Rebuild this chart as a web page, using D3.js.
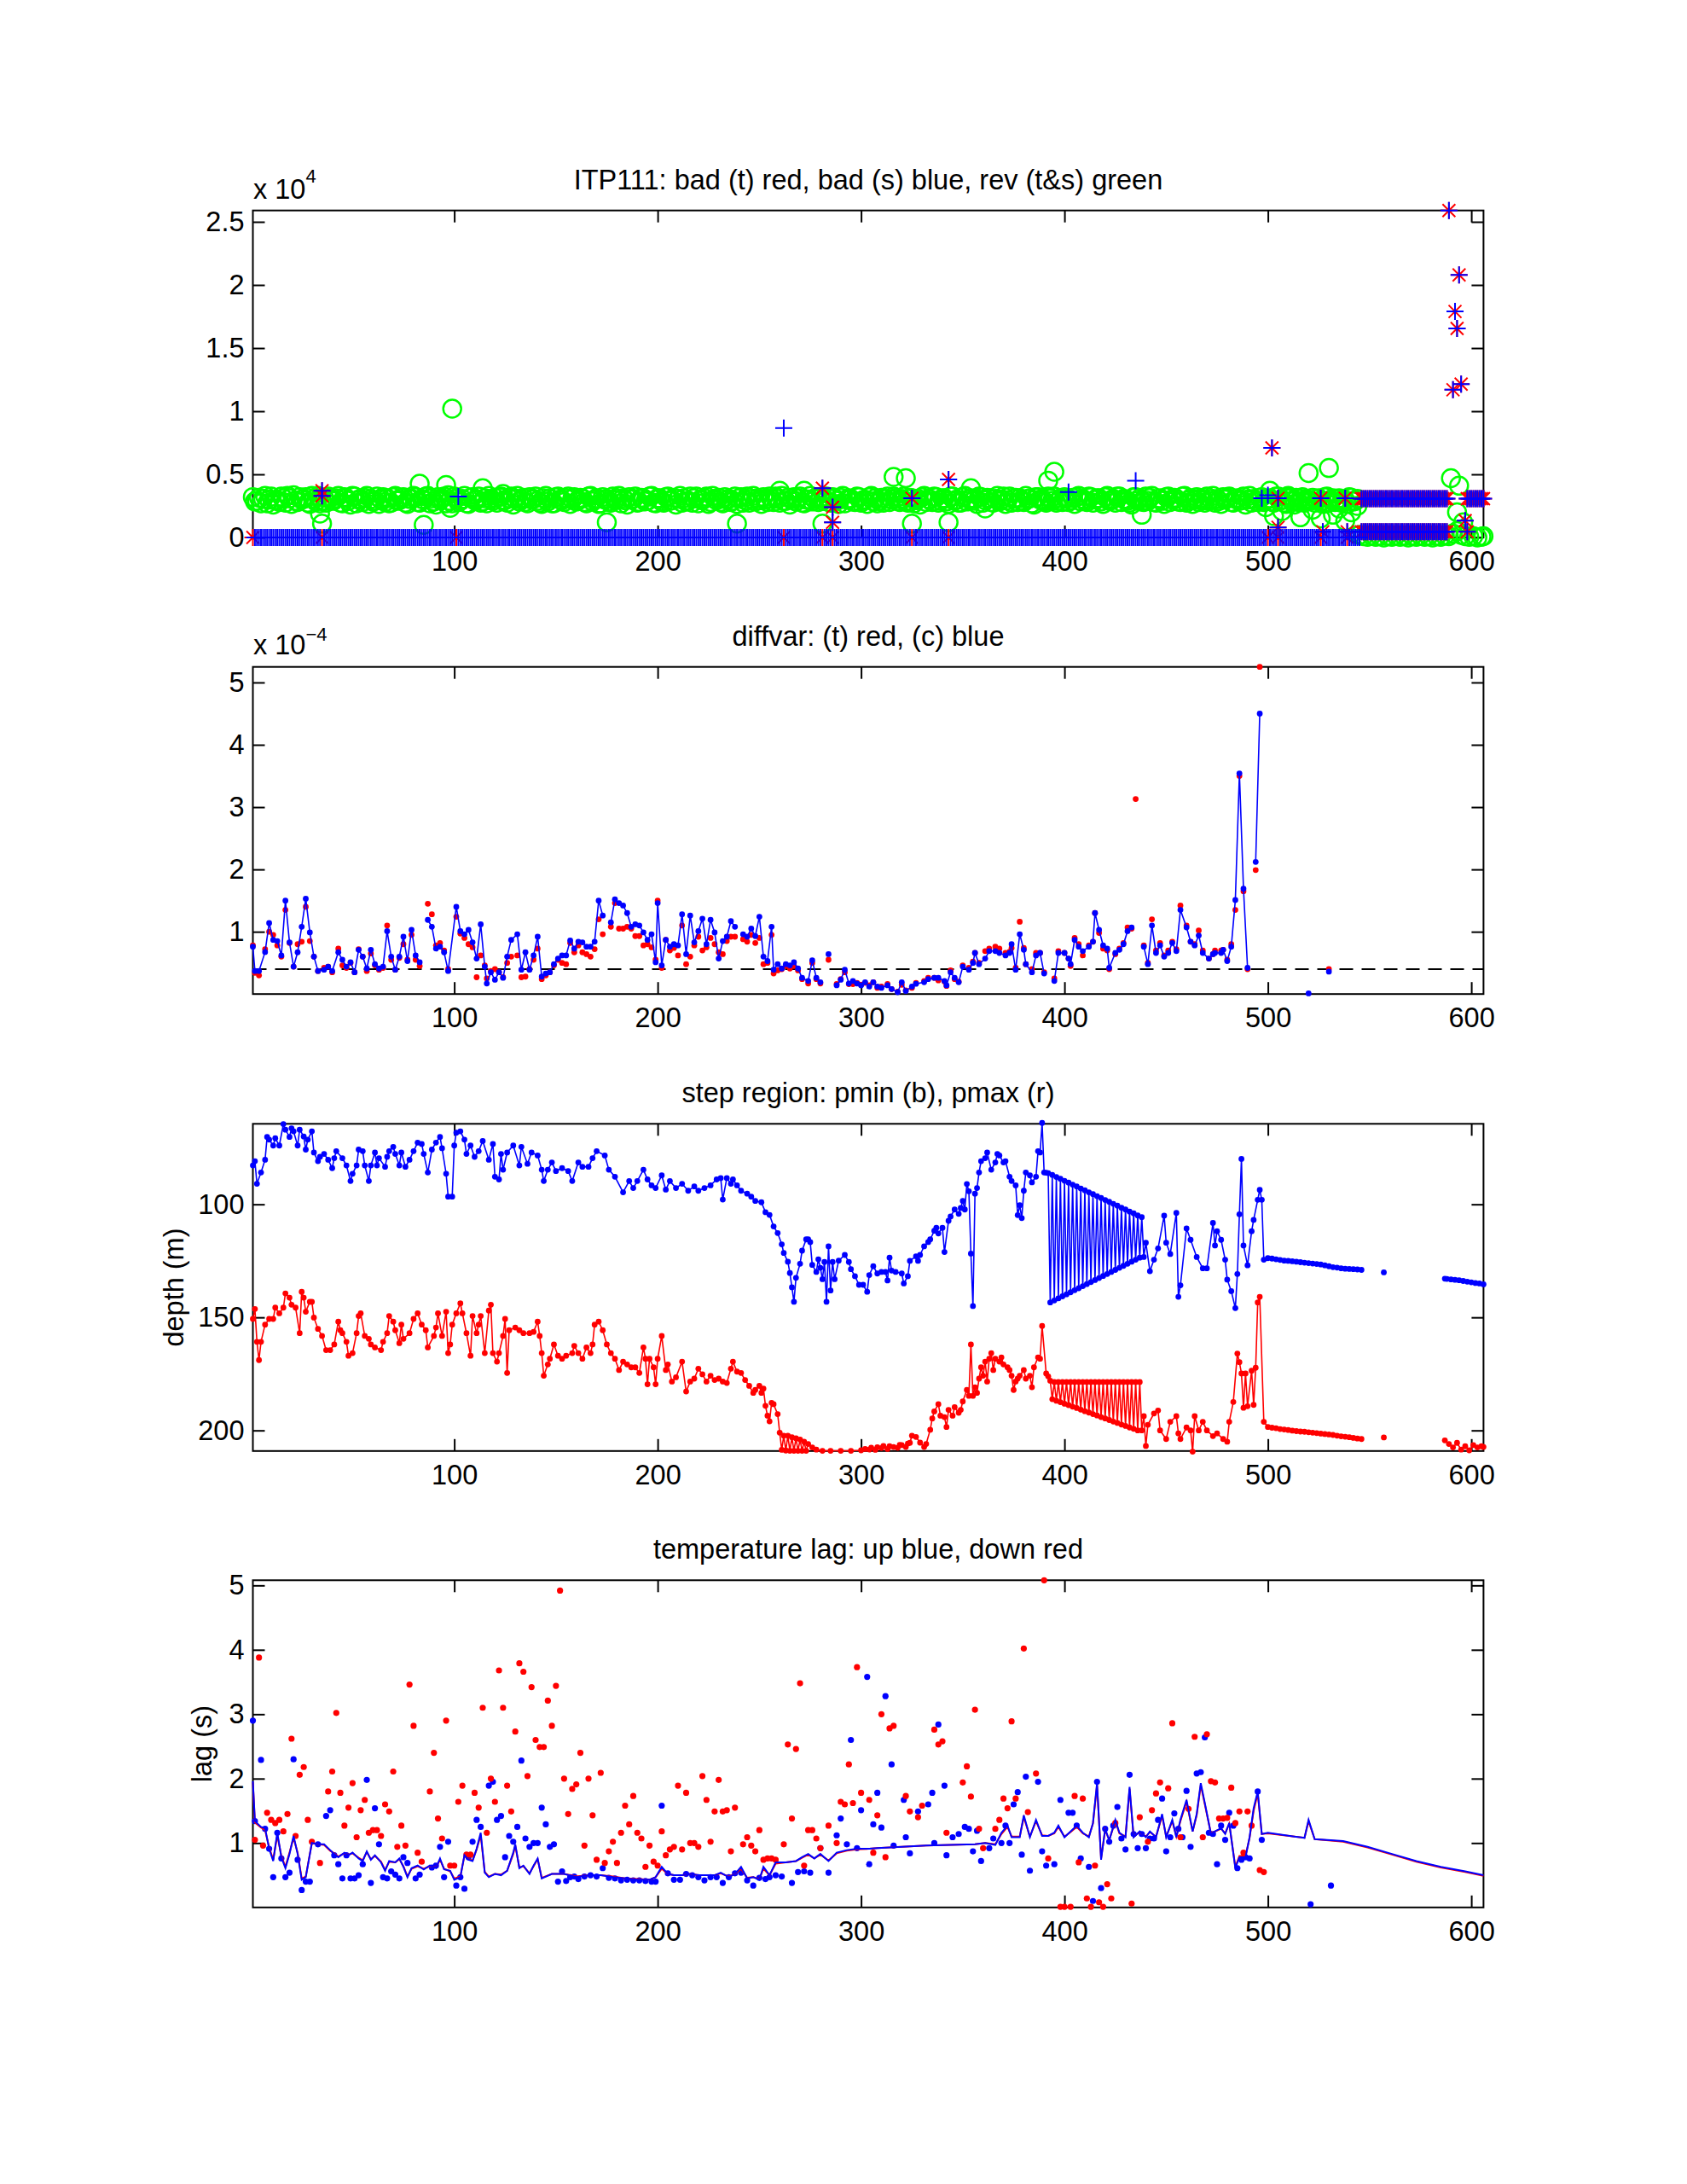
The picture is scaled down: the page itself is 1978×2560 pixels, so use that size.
<!DOCTYPE html>
<html><head><meta charset="utf-8">
<script src="https://cdn.jsdelivr.net/npm/d3@7"></script>
<style>body{margin:0;background:#fff}</style>
</head><body>
<script>
// ================= DATA =================
const xTicks = [100, 200, 300, 400, 500, 600];
const titles = [
  "ITP111: bad (t) red, bad (s) blue, rev (t&s) green",
  "diffvar: (t) red, (c) blue",
  "step region: pmin (b), pmax (r)",
  "temperature lag: up blue, down red"
];

// ---- panel 1 (counts) ----
// green circles: main band, read at odd profiles 1,3,...,543
const revBandOddV = [
3200,2900,2700,3300,3000,2600,2950,3250,2750,3100,3350,2800,3000,3200,2650,3050,3300,2900,2750,3150,
2950,3300,2700,3100,2600,3250,3000,2800,3300,3050,2900,2650,3200,3100,2750,3300,2950,3200,2650,3050,
3200,2750,3000,3300,3100,2600,2950,3250,3350,2700,3100,2900,3300,2650,3200,3000,2750,3100,3300,2900,
2750,3250,2950,3100,2600,3300,3000,2800,3200,3050,2900,2650,3300,3100,2700,3250,2950,3100,2650,3200,
2950,3100,2700,3300,3000,2650,3200,3050,2750,2950,3300,3100,2600,3000,3250,2800,3100,2900,3300,2700,
3100,2750,3250,2950,2600,3300,3100,2900,2750,3250,3000,3100,2650,3300,2950,2800,3200,3050,2900,2650,
3200,2950,2750,3300,3100,2650,3000,3250,2800,3050,3300,2900,2600,3200,3100,2750,3000,3300,3050,2800,
2900,3250,2750,3100,2650,3300,3000,3050,2800,3200,2950,2650,3300,3100,2900,2750,3250,3000,3100,2800,
3250,2750,3100,2950,2600,3300,3050,2800,3200,2900,3100,2650,3250,3000,2750,3300,3050,2900,2650,3200,
2950,3100,2750,3300,3000,2650,3250,3050,2800,2900,3300,3100,2600,3200,2950,2750,3100,3250,2900,2800,
3100,2950,2650,3300,3050,2800,3200,3000,3100,2650,3300,2950,2750,3250,3050,2900,2600,3200,3100,2800,
2900,3300,2750,3100,2650,3250,3000,3050,2800,3300,2950,2650,3200,3100,2750,2900,3300,3050,2650,3000,
3250,2750,3100,2950,2600,3300,3050,2800,3200,2950,3100,2750,3250,3000,2650,3100,2950,2800,3200,3050,
2900,2750,3100,2650,3250,2950,2800,3100,3000,2650,3150,2900
];
// green circles: main band, read at even profiles 2,4,...,544
const revBandEvenV = [
2850,3150,3050,2700,3250,2950,2800,3100,3300,2650,2900,3200,3050,2750,3300,2850,2700,3150,3250,2900,
3100,2750,3200,2900,3300,2700,3050,3150,2650,2850,3250,3000,2800,2700,3200,2900,3150,2750,3050,3300,
2800,3050,3250,2700,2850,3200,3100,2700,2900,3250,2800,3050,2700,3150,2950,3250,2850,2700,3050,3150,
3200,2900,2750,3250,3050,2850,3150,2700,3000,3250,2750,3100,2850,2700,3200,3000,2800,3250,3050,2850,
3150,2800,3250,2850,3100,2700,3000,2850,3250,3100,2700,2950,3200,3050,2750,3150,2850,3250,2750,3100,
2850,3200,2900,3150,3050,2750,2850,3250,3100,2700,2950,3250,2800,3050,3150,2700,3000,2800,3250,3100,
2750,3250,3050,2850,2950,3200,2800,3050,3250,2750,2900,3150,3050,2850,3250,2700,3000,2850,3200,3100,
3050,2800,3200,2900,3150,2700,3100,2850,3250,2750,3000,3200,2850,2700,3150,3050,2800,3250,2900,3050,
2850,3150,2700,3050,3200,2800,3000,3250,2750,3100,2850,3250,2900,2750,3200,2850,3100,3050,3250,2750,
3150,2800,3050,2850,3250,2950,2750,3150,3100,2800,3050,2700,3200,3000,2850,3250,2900,2750,3100,3200,
2800,3150,3200,2850,2900,3250,2750,3100,2850,3200,2900,3050,3250,2800,3000,2750,3200,2900,2850,3250,
3150,2800,3050,2900,3200,2800,3150,2850,3250,2750,3100,3000,2800,2950,3250,3050,2750,2900,3200,3150,
2800,3050,2900,3250,3000,2750,2900,3150,2800,3050,2850,3250,2900,2750,3200,2850,3150,3050,2750,2950,
3150,3050,2850,3200,2800,3100,3000,2750,2950,3200,2850,3050
];
// green circles: outliers [profile, value]
const revOutliers = [
[34,1900],[35,1100],[83,4250],[85,1000],[96,4150],[99,10200],[98,2350],[114,3900],[124,3450],
[175,1200],[239,1100],[260,3700],[272,3700],[281,1100],[316,4800],[322,4700],[325,1100],[343,1200],
[354,3900],[361,2300],[392,4500],[395,5200],[438,1800],[501,3700],[520,5100],[530,5500],
[499,2400],[503,1700],[507,2100],[510,3300],[513,2600],[516,1600],[518,2900],[522,2200],[526,1500],
[529,2700],[532,1800],[535,2300],[538,1300],[541,2000],[544,2500],[590,4700],[594,4100],[593,2000],[596,1200]
];
// green circles near zero after profile 545
const revLow = [
[545,200],[547,100],[549,50],[551,150],[553,50],[555,100],[557,0],[559,100],[561,50],[563,150],
[565,50],[567,100],[569,0],[571,100],[573,50],[575,150],[577,50],[579,100],[581,0],[583,100],
[585,50],[587,150],[589,100],[591,300],[593,500],[595,200],[597,100],[599,50],[601,100],[603,0],[605,50],[606,100]
];
// blue '+' at zero: profile ranges
const badSZeroRanges = [[2,34],[36,100],[102,261],[263,280],[282,285],[287,324],[326,342],[344,499],[501,504],[506,525],[527,538],[540,545]];
// red '*' at zero
const badTZeroP = [1,35,101,262,281,286,325,343,500,505,526,539];
// profiles flagged bad in both t and s [profile, value]
const badBoth = [
[35,3700],[35,3300],[281,3900],[286,2400],[286,1200],[325,3100],[343,4600],[502,7100],[505,3100],[505,800],
[526,3100],[527,450],[538,3100],[539,450],[589,25900],[594,20800],[592,17900],[593,16550],[591,11700],[595,12150],[597,1330],[598,450]
];
// bad in s only
const badSOnly = [[102,3250],[262,8660],[402,3600],[435,4500],[500,3350],[497,3100]];
// rows of bad t & s after profile 545 [start, end, value]
const badRows = [[546,588,3070],[598,606,3070],[546,588,450]];

// ---- panel 2 (diffvar, units of 1e-4) ----
const dashLevel = 0.4;
const diffC = [
[1,0.76],[2,0.37],[4,0.37],[7,0.675],[9,1.14],[11,0.87],[13,0.85],[15,0.62],[17,1.50],[19,0.83],[21,0.44],[23,0.67],[25,1.08],[27,1.53],[29,0.99],[31,0.60],[33,0.37],[36,0.39],[38,0.44],[40,0.37],[43,0.67],[45,0.55],[47,0.44],[49,0.51],[51,0.35],[53,0.71],[55,0.60],[57,0.41],[59,0.71],[61,0.48],[63,0.41],[65,0.44],[67,1.01],[69,0.60],[71,0.39],[73,0.60],[75,0.92],[77,0.53],[79,1.03],[81,0.62],[83,0.51],null,
[87,1.19],[89,1.08],[91,0.73],[93,0.76],[95,0.67],[97,0.37],[101,1.40],[103,1.01],[105,0.96],[107,1.03],[109,0.83],[111,0.57],[113,1.12],[115,0.44],[116,0.17],[118,0.35],[120,0.23],[122,0.35],[124,0.26],[126,0.60],[128,0.87],[131,0.96],[133,0.39],[135,0.67],[137,0.39],[139,0.62],[141,0.92],[143,0.28],[145,0.33],[147,0.35],[149,0.48],[151,0.57],[153,0.62],[155,0.62],[157,0.86],[159,0.73],[161,0.84],[163,0.83],[165,0.76],[167,0.76],[169,0.84],[171,1.50],[173,1.26],null,
[177,1.15],[179,1.52],[181,1.46],[183,1.42],[185,1.30],[187,1.08],[189,1.12],[191,1.10],[193,0.99],[195,0.87],[197,0.96],[199,0.51],[200,1.46],[202,0.46],[204,0.87],[206,0.76],[208,0.80],[210,0.78],[212,1.28],[214,0.64],[216,1.26],[218,0.83],[220,1.01],[222,1.21],[224,0.80],[226,1.19],[228,0.99],[230,0.57],[232,0.85],[234,0.92],[236,1.17],[238,1.08],null,
[242,0.96],[244,0.92],[246,1.05],[248,0.93],[250,1.24],[252,0.60],[254,0.53],[256,1.08],[257,0.39],[259,0.48],[261,0.41],[263,0.48],[265,0.46],[267,0.51],[269,0.41],[271,0.26],[274,0.21],[276,0.54],[278,0.26],[280,0.19],null,
[284,0.64],null,
[288,0.14],[290,0.23],[292,0.39],[294,0.17],[296,0.21],[298,0.17],[300,0.14],[302,0.19],[304,0.12],[306,0.19],[308,0.12],[310,0.10],[313,0.14],[315,0.08],[318,0.03],[320,0.19],[322,0.05],[325,0.12],[327,0.165],[331,0.19],[333,0.24],[336,0.26],[338,0.26],[341,0.21],[342,0.14],[344,0.35],[346,0.26],[348,0.19],[350,0.44],[353,0.39],[355,0.50],[356,0.66],[358,0.48],[361,0.57],[363,0.69],[366,0.69],[368,0.66],[371,0.62],[373,0.66],[374,0.80],[376,0.39],[378,0.96],[380,0.71],[381,0.48],[384,0.35],[386,0.62],[388,0.66],[390,0.33],null,
[395,0.21],[397,0.66],[400,0.66],[402,0.57],[403,0.48],[405,0.87],[407,0.76],[409,0.69],[412,0.76],[414,0.84],[415,1.30],[417,1.03],[419,0.78],[421,0.73],[422,0.42],[425,0.66],[427,0.71],[429,0.80],[431,1.01],[433,1.07],null,
[439,0.76],[441,0.48],[443,1.10],[445,0.66],[447,0.78],[449,0.60],[451,0.66],[453,0.82],[455,0.69],[457,1.35],[460,1.07],[462,0.84],[464,0.78],[466,0.94],[468,0.66],[471,0.57],[473,0.64],[474,0.66],[477,0.66],[478,0.71],[480,0.53],[482,0.76],[484,1.51],[486,3.54],[488,1.69],[490,0.42],null,
[494,2.12],[496,4.50],null,
[520,0.01],null,[530,0.36]
];
const diffT = [
[1,0.78],[2,0.34],[4,0.30],[7,0.72],[9,1.0],[11,0.95],[13,0.78],[15,0.60],[17,1.35],[19,0.82],[21,0.44],[23,0.80],[25,0.84],[27,1.40],[29,0.85],[31,0.60],[33,0.37],[36,0.42],[38,0.44],[40,0.35],[43,0.73],[45,0.46],[47,0.42],[49,0.50],[51,0.35],[53,0.72],[55,0.60],[57,0.37],[59,0.65],[61,0.46],[63,0.39],[65,0.42],[67,1.10],[69,0.55],[71,0.39],[73,0.58],[75,0.80],[77,0.55],[79,0.95],[81,0.55],[83,0.45],[87,1.45],[89,1.28],[91,0.78],[93,0.82],[95,0.70],[97,0.40],[101,1.24],[103,0.97],[105,0.90],[107,0.80],[109,0.75],[111,0.27],[113,0.62],[115,0.46],[116,0.25],[118,0.37],[120,0.40],[122,0.35],[124,0.27],[126,0.50],[128,0.60],[131,0.62],[133,0.27],[135,0.28],[137,0.40],[139,0.55],[141,0.73],[143,0.24],[145,0.30],[147,0.35],[149,0.46],[151,0.55],[153,0.50],[155,0.48],[157,0.82],[159,0.67],[161,0.78],[163,0.67],[165,0.64],[167,0.60],[169,0.72],[171,1.20],[173,0.96],[177,1.08],[179,1.46],[181,1.05],[183,1.05],[185,1.08],[187,1.05],[189,0.93],[191,0.93],[193,0.78],[195,0.80],[197,0.75],[199,0.55],[200,1.50],[202,0.42],[204,0.87],[206,0.70],[208,0.74],[210,0.62],[212,1.10],[214,0.48],[216,0.60],[218,0.78],[220,0.92],[222,0.70],[224,0.75],[226,0.90],[228,0.80],[230,0.67],[232,0.64],[234,0.85],[236,0.92],[238,0.92],[242,0.88],[244,0.84],[246,0.95],[248,0.82],[250,0.90],[252,0.48],[254,0.50],[256,0.95],[257,0.33],[259,0.38],[261,0.40],[263,0.45],[265,0.41],[267,0.45],[269,0.38],[271,0.24],[274,0.17],[276,0.50],[278,0.24],[280,0.17],[284,0.55],[288,0.16],[290,0.24],[292,0.35],[294,0.16],[296,0.16],[298,0.18],[300,0.15],[302,0.18],[304,0.14],
[306,0.19],[308,0.10],[310,0.12],[313,0.16],[315,0.08],[318,0.04],[320,0.15],[322,0.06],[325,0.10],[327,0.18],[331,0.21],[333,0.26],[336,0.26],[338,0.22],[341,0.20],[342,0.13],[344,0.38],[346,0.24],[348,0.20],[350,0.46],[353,0.42],[355,0.52],[356,0.66],[358,0.50],[361,0.69],[363,0.73],[366,0.76],[368,0.73],[371,0.66],[373,0.68],[374,0.74],[376,0.42],[378,1.16],[380,0.74],[381,0.48],[384,0.40],[386,0.66],[388,0.66],[390,0.35],[395,0.25],[397,0.69],[400,0.66],[402,0.57],[403,0.45],[405,0.90],[407,0.80],[409,0.62],[412,0.78],[414,0.84],[415,1.30],[417,0.98],[419,0.73],[421,0.70],[422,0.40],[425,0.64],[427,0.73],[429,0.82],[431,1.07],[433,1.05],[435,3.13],[439,0.78],[441,0.50],[443,1.20],[445,0.70],[447,0.82],[449,0.62],[451,0.70],[453,0.84],[455,0.72],[457,1.42],[460,1.10],[462,0.84],[464,0.80],[466,1.02],[468,0.70],[471,0.57],[473,0.64],[474,0.70],[477,0.70],[478,0.71],[480,0.55],[482,0.80],[484,1.35],[486,3.50],[488,1.65],[490,0.40],[494,1.99],[496,5.25],[530,0.40]
];

// ---- panel 3 (step region depth, m) ----
const pmin = [
[1,82.8],[2,80.9],[3,90.9],[5,85.9],[7,80.3],[8,70.2],[9,71.4],[11,74],[12,70.8],[14,74],[16,64.5],[17,67],[19,70.2],[20,66.4],[21,67.7],[23,74],[24,67],[26,70],[27,75.8],[28,71.4],[30,67.7],[31,77.1],[33,80.9],[34,79],[36,77.7],[38,80.3],[40,84],[41,79.6],[42,76.5],[45,79.6],[47,82.8],[49,89.7],[50,86.5],[52,82.8],[53,75.8],[55,76.5],[56,82.8],[58,89.7],[59,82.8],[61,77.1],[62,82.8],[63,79.6],[66,83.4],[67,79],[68,76.5],[70,74.6],[71,77.7],[73,82.8],[74,77.1],[76,83.4],[78,80.3],[80,76.5],[82,72.7],[84,73.3],[85,77.7],[87,85.9],[89,75.8],[91,72.7],[93,70.2],[94,75.2],[96,86.5],[97,96.6],[99,96.6],[100,74],
[101,68.3],[103,67.7],[105,71.4],[106,77.7],[108,74],[110,79],[112,76.5],[114,72],[117,80.3],[119,73.3],[120,87.8],[122,89],[123,77.7],[124,84.7],[126,77.1],[129,74],[132,82.8],[133,74.6],[136,82.1],[138,77.1],[141,78.4],[143,84.7],[144,89.7],[146,84.7],[148,81.5],[150,85.3],[153,84],[156,85.3],[158,89.7],[161,81.5],[163,83.4],[166,83.4],[168,79.6],[170,76.5],[174,78.4],[176,84.7],[179,87.8],[183,94.7],[186,89.7],[188,92.8],[190,89.7],[193,84.7],[195,89],[197,91.6],[199,92.8],[202,87.2],[204,93.5],[206,89.7],
[209,92.8],[212,90.9],[215,94],[218,92.1],[220,94],[223,92.8],[226,91.6],[229,89],[231,88.4],[232,97.9],[234,88.4],[236,90.9],[237,89],[239,91.6],[241,94],[244,95.3],[246,96.6],[248,98.5],[251,99.1],[253,103.5],[255,104.7],[257,109.8],[259,112.7],[261,117.7],[262,121.5],[264,125.4],[265,130.4],[266,136.7],[267,143.1],[268,132.5],[270,126.3],[271,120.5],[273,115.5],[274,115.5],[275,116.7],[276,126.8],[278,129.9],[279,124.3],[280,128.1],[281,133.1],[282,125.5],[283,143.1],[284,118.6],[285,138.1],[286,125.5],[287,133.1],[289,124.9],[292,122.4],[294,125.5],[295,128.7],[297,131.8],[299,135.6],
[301,135.6],[303,138.7],[304,131.3],[306,127.4],[308,130.6],[310,129.9],[312,129.9],[313,133.7],[314,123.6],[315,129.3],[317,129.9],[320,130.6],[321,135],[323,131.8],[324,125],[327,123],[328,125],[329,122.4],[331,118.6],[333,116.7],[334,115.5],[336,111.7],[337,110.4],[338,112.9],[340,110.4],[341,121.1],[343,107.3],[344,105.4],[346,102.3],[348,104.2],[349,101.6],[350,98.5],[351,102.3],[352,91],[353,94.2],[354,121.8],[355,145],[356,95.3],[357,92.8],[358,85.9],[359,80.9],[361,79.6],[362,77.1],[364,84.7],[366,81.5],[367,77.7],[368,78.4],[370,81.5],[371,80.9],[373,87.8],[374,89.7],[376,91.6],[377,104.8],[378,100.4],[379,106.1],[380,94],[381,85.9],[383,87.2],[384,90.3],[386,87.8],[387,76.5],[388,77.1],[389,64],[390,85.9],[391,86],
[392,86.2],[393,143.4],[394,87.0],[395,142.5],[396,87.9],[397,141.6],[398,88.7],[399,140.7],[400,89.6],[401,139.8],[402,90.4],[403,138.9],[404,91.3],[405,138.0],[406,92.1],[407,137.1],[408,93.0],[409,136.2],[410,93.8],[411,135.3],[412,94.7],[413,134.4],[414,95.5],[415,133.5],[416,96.4],[417,132.6],[418,97.2],[419,131.7],[420,98.1],[421,130.8],[422,98.9],[423,129.9],[424,99.8],[425,129.0],[426,100.6],[427,128.1],[428,101.5],[429,127.2],[430,102.3],[431,126.3],[432,103.2],[433,125.4],[434,104.0],[435,124.5],[436,104.9],[437,123.6],[438,105.7],
[439,123.3],[440,117],[442,129.6],[444,124.5],[446,119.5],[449,105],[450,117],[452,122],[455,103.8],[456,140.9],[457,135.8],[460,110.7],[462,115.7],[465,123.3],[468,128.3],[470,128.3],[473,108.2],[474,118.2],[475,111.9],[477,115.7],[479,124.5],[480,133.3],[482,138.4],[484,145.9],[485,130.8],[486,104.4],[487,79.9],[488,118.2],[490,127],[492,111.9],[493,106.9],[495,98],[496,93.6],[497,98],
[498,124.5],[500,123.8],[502,124],[504,124.3],[506,124.6],[508,124.9],[510,125],[512,125.2],[514,125.4],[516,125.6],[518,125.8],[520,126],[522,126.2],[524,126.4],[526,126.6],[528,127],[530,127.4],[532,127.8],[534,128],[536,128.3],[538,128.5],[540,128.6],[542,128.7],[544,128.8],[546,129],null,
[557,130.1],null,
[587,132.9],[588,133],[590,133.2],[592,133.4],[594,133.6],[596,133.9],[598,134.2],[600,134.5],[602,134.8],[604,135],[606,135.4]
];
const pmax = [
[1,150.7],[2,146.3],[3,160.8],[4,168.9],[5,160.8],[7,153.2],[9,150.7],[11,150.7],[12,145.7],[14,148.2],[16,145.7],[17,139.4],[19,141.3],[20,144.4],[22,145.7],[24,157],[25,138.7],[26,141.3],[27,147.5],[29,143.1],[30,143.1],[31,150.1],[33,155.1],[35,158.2],[37,164.5],[39,164.5],[41,162],[43,151.9],[44,155.7],[45,157],[47,160.8],[48,167],[50,165.8],[52,157],[53,149.4],[54,148.2],[56,158.2],[58,159.5],[59,162],[61,163.3],[64,164.5],[65,160.8],[67,157],[68,149.4],[70,151.9],[71,155.7],[73,161.4],[74,153.2],[75,159.5],[78,157],[80,150.7],[82,148.2],[84,153.2],[86,155.7],[87,163.3],[90,158.2],[91,154.5],[92,148.2],[94,158.2],[96,147.5],[97,165.8],[98,162],[99,153.2],
[101,148.2],[103,143.8],[104,148.2],[106,157],[108,167],[109,149.4],[111,157],[112,153.2],[113,149.4],[115,165.8],[117,147],[118,144.4],[119,165.8],[121,169.6],[122,165.8],[124,158.2],[125,150.7],[126,174.6],[127,155.7],[130,154.5],[132,155.7],[134,157],[137,157],[139,156.4],[141,151.9],[142,158.2],[143,165.8],[144,175.8],[146,170.8],[147,168.3],[149,162],[151,167],[153,168.3],[155,167],[158,165.8],[159,162.6],[161,165.8],[163,168.3],[165,163.3],[167,165.8],[168,162],[169,153.2],[171,151.9],[173,155.7],[175,162],[177,165.8],[179,168.3],[181,173.3],[183,169.6],[185,170.8],[187,172.1],[189,172.1],[191,174.6],[193,163.3],[194,168.3],[195,179.6],[196,168.3],[198,172.1],[199,179.6],[200,168.3],[202,158.2],[204,173.3],[205,170.8],[207,178.4],
[209,176.5],[212,169.6],[214,182.8],[216,178.4],[218,177.1],[220,172.7],[222,175.2],[224,178.4],[226,175.8],[228,177.7],[230,177.1],[232,178.4],[234,179],[236,172.7],[237,169.6],[239,174],[241,174.6],[243,177.7],[245,180.3],[247,183.4],[248,182.1],[250,180.3],[251,183.4],[252,181.5],[253,189.1],[254,193.5],[255,196],[256,187.8],[257,188.4],[259,192.8],[260,201],[261,208.6],[262,202.3],[263,208.9],[264,202.3],[265,209],[266,203],[267,209],[268,203.5],[269,209],[270,204],[271,209],[272,205],[273,209],[274,206],[276,207.5],[278,208.5],[281,209],[285,209],[290,209],[295,209],[300,208.8],[302,208.2],[304,208.5],[305,207.6],[307,208.6],[308,207.4],[310,207.8],[311,206.9],[313,208.2],[314,207],[316,207.3],[318,207.7],[319,206.4],[320,206.5],[322,207.3],[323,205.8],[324,205.5],[325,202.3],[327,202.9],[329,205.4],[331,207.3],[332,206],[334,199.7],[335,194.7],[336,191.6],[338,188.4],[339,193.5],[341,194.1],[342,198.5],[343,190.9],[345,193.5],[346,189.7],[348,192.2],[349,190.9],[350,187.2],[352,182.1],[353,184.7],[354,162],[355,184.7],[356,180.9],[357,183.4],[358,177.1],[359,172.1],[360,175.8],[361,169.6],[362,178.4],[363,168.3],[364,165.8],[365,173.3],[366,168.3],[368,169.6],[369,167.7],[370,170.8],[372,172.1],[373,173.3],[374,175.8],[375,182.1],[376,178.4],[377,177.1],[378,175.8],[380,173.3],[381,177.1],[383,175.8],[384,180.9],[385,172.1],[387,167.7],[388,168.3],[389,153.8],[391,174.8],[392,176.1],[393,178],
[394,186.2],[395,178.6],[396,186.9],[397,178.6],[398,187.5],[399,178.6],[400,188.2],[401,178.6],[402,188.8],[403,178.6],[404,189.5],[405,178.6],[406,190.1],[407,178.6],[408,190.8],[409,178.6],[410,191.5],[411,178.6],[412,192.1],[413,178.6],[414,192.8],[415,178.6],[416,193.4],[417,178.6],[418,194.1],[419,178.6],[420,194.7],[421,178.6],[422,195.4],[423,178.6],[424,196.1],[425,178.6],[426,196.7],[427,178.6],[428,197.4],[429,178.6],[430,198],[431,178.6],[432,198.7],[433,178.6],[434,199.3],[435,178.6],[436,200],[437,178.6],
[438,200],[439,193.7],[440,206.9],[441,197.5],[444,192.5],[446,191.2],[447,200],[450,203.8],[452,196.2],[455,193.7],[456,201.3],[457,203.8],[460,198.7],[462,200],[463,209.4],[464,193.7],[466,200],[468,196.2],[470,200],[473,202.5],[475,201.3],[478,203.8],[480,205],[481,196.2],[483,187.4],[485,166],[486,169.8],[487,174.8],[488,190],[489,174.8],[490,189.3],[492,173.6],[493,188.7],[494,172.3],[495,143.4],[496,140.9],
[498,196.2],[500,198.5],[502,198.8],[504,199],[506,199.4],[508,199.6],[510,199.8],[512,200.1],[514,200.3],[516,200.5],[518,200.6],[520,200.8],[522,201],[524,201.2],[526,201.4],[528,201.6],[530,201.8],[532,202],[534,202.3],[536,202.6],[538,202.8],[540,203],[542,203.3],[544,203.6],[546,203.8],null,
[557,203.1],null,
[587,204.4],[589,206],[591,207.5],[593,205.5],[595,208.5],[597,207],[599,208.8],[601,206.5],[603,207.5],[605,207],[606,207.3]
];

// ---- panel 4 (temperature lag, s) ----
const lagUpLine = [
[1,1.96],[2,1.34],[5,1.25],[7,1.23],[9,0.91],[11,0.72],[13,1.16],[15,0.78],[17,0.61],[19,0.83],[21,1.11],[23,0.83],[25,0.43],[27,0.47],[30,1.0],[33,0.98],[36,0.98],[39,0.89],[41,0.83],[43,0.78],[46,0.85],[48,0.81],[50,0.85],[53,0.76],[55,0.72],[57,0.87],[59,0.74],[61,0.81],[64,0.70],[66,0.57],[68,0.72],[71,0.70],[73,0.76],[75,0.63],[77,0.47],[79,0.61],[82,0.65],[85,0.59],[88,0.65],[91,0.61],[93,0.76],[95,0.59],[98,0.57],[100,0.43],[103,0.47],[105,0.81],[107,0.74],[109,0.72],[111,0.91],[113,1.16],[115,0.54],[117,0.47],[120,0.52],[123,0.50],[126,0.57],[129,0.85],[130,0.98],[132,0.61],[134,0.65],[137,0.52],[139,0.65],[141,0.76],[143,0.45],[148,0.52],[154,0.52],[160,0.47],[166,0.50],[172,0.50],[178,0.47],[184,0.45],[190,0.43],[196,0.43],[199,0.47],[202,0.63],[205,0.52],[208,0.50],[212,0.50],[216,0.52],[220,0.50],[224,0.50],[228,0.50],[231,0.54],[235,0.47],[238,0.52],[241,0.63],[244,0.45],[247,0.47],[250,0.43],[252,0.63],[255,0.50],[258,0.70],[263,0.70],[268,0.72],[271,0.78],[274,0.83],[277,0.76],[280,0.83],[284,0.72],[288,0.85],[293,0.89],[298,0.91],[304,0.91],[308,0.92],[320,0.94],[332,0.96],[344,0.97],[356,0.98],[361,1.0],[366,0.97],[369,1.16],[372,1.27],[374,1.09],[378,1.09],[380,1.43],[383,1.09],[386,1.36],[389,1.11],[392,1.11],[395,1.16],[397,1.27],[400,1.09],[403,1.18],[406,1.27],[409,1.16],[412,1.09],[414,1.31],[416,1.93],[418,0.74],[420,1.22],[422,1.04],[425,1.36],[427,1.16],[430,1.09],[432,1.87],[434,1.09],[437,1.18],[440,1.09],[442,1.18],[445,1.09],[448,1.45],[450,1.09],[453,1.36],[455,1.09],[457,1.36],[460,1.67],[463,1.18],[465,1.45],[467,1.93],[469,1.62],[472,1.14],[474,1.18],[477,1.23],[479,1.14],[481,1.31],[484,0.61],[486,0.78],[489,0.78],[491,1.09],[493,1.54],[495,1.80],[497,1.14],[500,1.16],[513,1.10],[518,1.08],[520,1.36],[523,1.06],[537,1.03],[549,0.94],[561,0.83],[573,0.72],[585,0.63],[597,0.56],[606,0.50]
];
const lagDownLine = [
[1,1.94],[2,1.32],[5,1.24],[7,1.2],[9,0.93],[11,0.74],[13,1.12],[15,0.8],[17,0.63],[19,0.85],[21,1.08],[23,0.85],[25,0.45],[27,0.48],[30,1.0],[33,0.98],[36,0.97],[39,0.88],[41,0.84],[43,0.79],[46,0.84],[48,0.82],[50,0.84],[53,0.77],[55,0.73],[57,0.86],[59,0.75],[61,0.8],[64,0.71],[66,0.58],[68,0.71],[71,0.7],[73,0.75],[75,0.64],[77,0.48],[79,0.6],[82,0.64],[85,0.6],[88,0.64],[91,0.62],[93,0.74],[95,0.6],[98,0.56],[100,0.45],[103,0.48],[105,0.8],[107,0.75],[109,0.73],[111,0.9],[113,1.12],[115,0.55],[117,0.48],[120,0.52],[123,0.51],[126,0.57],[129,0.83],[130,0.96],[132,0.62],[134,0.64],[137,0.53],[139,0.64],[141,0.75],[143,0.46],[148,0.52],[154,0.52],[160,0.48],[166,0.5],[172,0.5],[178,0.48],[184,0.45],[190,0.44],[196,0.43],[199,0.47],[202,0.6],[205,0.52],[208,0.5],[212,0.5],[216,0.52],[220,0.5],[224,0.5],[228,0.5],[231,0.53],[235,0.48],[238,0.52],[241,0.6],[244,0.46],[247,0.47],[250,0.44],[252,0.6],[255,0.5],[258,0.68],[263,0.7],[268,0.72],[271,0.77],[274,0.82],[277,0.76],[280,0.82],[284,0.73],[288,0.84],[293,0.88],[298,0.9],[304,0.91],[308,0.92],[320,0.94],[332,0.96],[344,0.97],[356,0.98],[361,1.0],[366,0.98],[369,1.14],[372,1.25],[374,1.1],[378,1.1],[380,1.4],[383,1.1],[386,1.34],[389,1.12],[392,1.11],[395,1.15],[397,1.25],[400,1.1],[403,1.17],[406,1.25],[409,1.15],[412,1.1],[414,1.3],[416,1.9],[418,0.76],[420,1.2],[422,1.05],[425,1.34],[427,1.15],[430,1.1],[432,1.84],[434,1.1],[437,1.17],[440,1.1],[442,1.17],[445,1.1],[448,1.42],[450,1.1],[453,1.34],[455,1.1],[457,1.34],[460,1.64],[463,1.18],[465,1.43],[467,1.9],[469,1.6],[472,1.15],[474,1.18],[477,1.22],[479,1.15],[481,1.3],[484,0.63],[486,0.8],[489,0.8],[491,1.08],[493,1.5],[495,1.77],[497,1.14],[500,1.15],[513,1.1],[518,1.08],[520,1.34],[523,1.06],[537,1.02],[549,0.93],[561,0.82],[573,0.71],[585,0.62],[597,0.55],[606,0.49]
];
const lagUp = [
[1,2.90],[2,1.34],[5,2.29],[7,1.22],[9,0.91],[11,0.47],[13,1.16],[15,0.76],[17,0.47],[19,0.54],[21,2.30],[23,0.74],[25,0.27],[27,0.40],[29,0.40],[33,0.98],[37,1.42],[39,1.51],[41,0.81],[43,0.67],[45,0.45],[47,0.81],[49,0.45],[51,0.45],[53,0.50],[55,0.67],[57,1.98],[59,0.38],[61,1.54],[63,0.98],[65,0.47],[67,0.45],[69,0.56],[71,0.51],[73,0.45],[75,0.78],[77,0.69],[81,0.45],[83,0.51],[89,0.62],[91,0.65],[93,0.94],[95,0.47],[97,1.02],[101,0.34],[103,0.47],[105,0.29],[107,0.78],[109,1.02],[111,1.36],[113,1.25],[117,1.89],[119,1.95],[121,1.36],[123,1.42],[125,0.78],[127,1.11],[129,1.02],[131,1.25],[133,2.28],[135,1.07],[137,0.94],[139,1.00],[141,1.00],[143,1.55],[145,1.29],[147,0.94],[149,0.98],[151,0.40],[153,0.56],[155,0.41],[157,0.47],[159,0.48],[161,0.44],[164,0.48],[167,0.50],[170,0.48],[173,0.61],[176,0.46],[179,0.45],[182,0.42],[185,0.43],[188,0.42],[191,0.42],[194,0.41],[197,0.40],[199,0.40],[202,1.58],[205,0.53],[208,0.43],[211,0.43],[214,0.52],[217,0.50],[220,0.47],[223,0.42],[226,0.47],[229,0.47],[232,0.38],[235,0.47],[238,0.53],[241,0.54],[244,0.42],[247,0.34],[250,0.46],[253,0.44],[255,0.47],[258,0.50],[261,0.48],[266,0.38],[269,0.55],[272,0.56],[275,0.54],[280,0.92],[284,0.54],[288,1.12],[290,1.38],[293,0.98],[295,2.60],[298,0.92],[300,1.51],[303,3.58],[304,0.67],[306,1.29],[308,1.78],[310,1.24],[312,3.28],[315,2.22],[316,0.96],[321,1.67],[322,1.09],[324,0.84],[328,1.49],[333,1.60],[335,1.78],[336,1.00],[338,2.84],[341,1.89],[342,0.81],[345,1.09],[348,1.14],[351,1.25],[353,1.22],[355,0.87],[357,1.19],[359,0.72],[363,0.92],[365,1.07],[369,1.00],[371,1.27],[373,1.00],[375,1.60],[377,1.79],[379,0.82],[381,2.03],[383,0.57],[387,1.95],[389,0.87],[391,0.65],[395,0.67],[398,1.67],[402,1.47],[404,1.47],[406,1.27],[408,0.76],[412,0.63],[414,0.10],[416,1.95],[418,0.30],[420,1.22],[422,1.02],[424,1.27],[426,1.56],[428,1.07],[430,0.90],[432,2.06],[434,1.14],[436,0.92],[438,1.14],[440,0.92],[442,1.07],[444,1.07],[446,1.36],[448,1.69],[450,0.87],[452,1.09],[454,1.46],[456,1.22],[458,1.09],[460,1.81],[462,0.94],[465,2.08],[467,2.10],[469,2.64],[471,1.16],[473,1.14],[475,0.67],[477,1.27],[479,1.05],[481,1.47],[483,1.27],[485,0.61],[487,0.74],[489,0.78],[491,0.76],[495,1.80],[497,1.05],[521,0.05],[531,0.34]
];
const lagDown = [
[2,1.05],[4,3.88],[6,0.96],[8,1.47],[10,1.36],[12,1.31],[14,1.36],[16,1.18],[18,1.45],[20,2.62],[22,1.11],[24,2.06],[26,2.18],[28,1.36],[30,1.02],[34,0.69],[38,1.80],[40,2.11],[42,3.02],[44,1.78],[46,1.27],[48,1.55],[50,1.93],[52,1.09],[54,1.51],[56,1.67],[58,1.16],[60,1.20],[62,1.20],[64,1.11],[66,1.60],[68,1.49],[70,2.11],[72,0.94],[74,1.27],[76,0.96],[78,3.46],[80,2.82],[82,0.85],[84,0.71],[88,1.80],[90,2.40],[92,1.38],[94,1.07],[96,2.90],[98,0.65],[100,0.65],[102,1.64],[104,1.89],[106,0.82],[108,0.82],[110,1.78],[112,1.55],[114,3.10],[116,1.16],[118,2.00],[120,1.64],[122,3.68],[124,3.10],[126,1.89],[128,1.49],[130,2.73],[132,3.79],[134,3.66],[136,2.04],[138,3.42],[140,2.60],[142,2.49],[144,2.49],[146,3.21],[148,2.82],[150,3.44],[152,4.92],[154,2.00],[156,1.45],[158,1.84],[160,1.91],[162,2.40],[164,0.96],[166,2.00],[168,1.43],[170,0.74],[172,2.09],[174,0.69],[176,0.87],[178,1.02],[180,0.69],[182,1.16],[184,1.58],[186,1.29],[188,1.73],[190,1.16],[192,1.07],[194,0.63],[196,0.96],[198,0.71],[200,0.65],[202,1.18],[204,0.81],[206,0.90],[208,0.94],[210,1.89],[212,0.90],[214,1.78],[216,1.00],[218,1.00],[220,0.94],[222,2.04],[224,1.67],[226,1.02],[228,1.49],[230,1.98],[232,1.49],[234,1.51],[236,0.87],[238,1.55],[242,0.98],[244,1.09],[246,0.96],[248,0.87],[250,1.20],[252,0.74],[254,0.76],[256,0.76],[258,0.74],[262,0.98],[264,2.53],[266,1.38],[268,2.46],[270,3.48],[272,0.65],[274,1.20],[276,1.20],[278,1.07],[280,0.92],[284,1.27],[288,1.00],[290,1.64],[292,1.60],[294,2.22],[296,1.62],[298,3.73],[300,1.78],[304,1.67],[306,0.85],[308,1.43],[310,3.00],[312,0.78],[314,2.78],[316,2.82],[322,1.73],[324,1.49],[328,1.40],[330,1.58],[336,2.76],[338,2.53],[340,2.58],[342,1.16],[350,1.94],[352,2.19],[354,1.72],[356,3.07],[358,1.22],[360,0.92],[366,1.22],[368,1.36],[370,1.69],[372,1.54],[374,2.89],[376,1.69],[380,4.02],[382,1.48],[386,2.08],[390,5.08],[392,0.76],[398,0.01],[400,0.01],[403,0.01],[405,1.73],[407,0.70],[409,1.69],[411,0.14],[413,0.01],[415,0.65],[417,0.08],[419,0.01],[421,0.36],[423,0.14],[425,1.31],[433,0.06],[437,1.40],[441,1.02],[443,1.51],[445,1.77],[447,1.94],[451,1.85],[453,2.86],[457,1.09],[461,1.53],[464,2.65],[468,1.09],[470,2.69],[472,1.96],[474,1.94],[476,1.38],[478,1.38],[480,1.39],[482,1.86],[484,1.31],[486,1.49],[488,0.85],[490,1.49],[492,1.27],[496,0.58],[498,0.55]
];

// ================= DRAWING =================
const FONT = '"Liberation Sans", Arial, Helvetica, sans-serif';
const FS = 32.5;
const W = 1978, H = 2560;
const X0 = 296.5, X1 = 1739.4;
const RED = "#ff0000", BLUE = "#0000ff", GREEN = "#00ff00";

const svg = d3.select("body").append("svg").attr("width", W).attr("height", H)
  .attr("font-family", FONT);
svg.append("rect").attr("width", W).attr("height", H).attr("fill", "#fff");

const x = d3.scaleLinear().domain([1, 606]).range([X0, X1]);

const panels = [
  {top: 246.7, bottom: 630},
  {top: 781.7, bottom: 1165.2},
  {top: 1317.3, bottom: 1700.8},
  {top: 1852.3, bottom: 2235.8}
];

function drawAxes(g, y, p, yTicks, yFmt) {
  const ax = g.append("g");
  const setup = s => s.attr("font-size", FS).attr("font-family", FONT);
  ax.append("g").attr("transform", `translate(0,${p.bottom})`)
    .call(d3.axisBottom(x).tickValues(xTicks).tickSizeInner(-14).tickSizeOuter(0).tickPadding(16).tickFormat(d3.format("d"))).call(setup);
  ax.append("g").attr("transform", `translate(0,${p.top})`)
    .call(d3.axisTop(x).tickValues(xTicks).tickSizeInner(-14).tickSizeOuter(0).tickFormat("")).call(setup);
  ax.append("g").attr("transform", `translate(${X0},0)`)
    .call(d3.axisLeft(y).tickValues(yTicks).tickSizeInner(-14).tickSizeOuter(0).tickPadding(10).tickFormat(yFmt)).call(setup);
  ax.append("g").attr("transform", `translate(${X1},0)`)
    .call(d3.axisRight(y).tickValues(yTicks).tickSizeInner(-14).tickSizeOuter(0).tickFormat("")).call(setup);
  ax.selectAll(".domain").remove();
  ax.selectAll(".tick line").attr("stroke", "#000").attr("stroke-width", 2);
  ax.selectAll(".tick text").attr("fill", "#000");
  ax.append("rect").attr("x", X0).attr("y", p.top).attr("width", X1 - X0).attr("height", p.bottom - p.top)
    .attr("fill", "none").attr("stroke", "#000").attr("stroke-width", 2);
}

function title(g, p, t) {
  g.append("text").attr("x", (X0 + X1) / 2).attr("y", p.top - 25).attr("text-anchor", "middle")
    .attr("font-size", FS).attr("fill", "#000").text(t);
}

function expand(ranges, v) {
  const out = [];
  ranges.forEach(r => { for (let p = r[0]; p <= r[1]; p++) out.push([p, r.length > 2 ? r[2] : v]); });
  return out;
}

// ---------- Panel 1 ----------
{
  const p = panels[0];
  const g = svg.append("g");
  const y = d3.scaleLinear().domain([0, 25900]).range([p.bottom, p.top]);
  drawAxes(g, y, p, [0, 5000, 10000, 15000, 20000, 25000], d => String(d / 1e4));
  title(g, p, titles[0]);
  const ex = g.append("text").attr("x", 297).attr("y", 233).attr("font-size", FS).attr("fill", "#000");
  ex.append("tspan").text("x 10");
  ex.append("tspan").attr("dy", -19).attr("font-size", 22).text("4");

  const band = revBandOddV.map((v, i) => [1 + i * 2, v]).concat(revBandEvenV.map((v, i) => [2 + i * 2, v]));
  const greens = band.concat(revOutliers, revLow);
  const plusPath = "M-10,0H10M0,-10V10";
  const starPath = "M-10,0H10M0,-10V10M-7.5,-7.5L7.5,7.5M-7.5,7.5L7.5,-7.5";
  const dg = g.append("g");
  dg.selectAll(null).data(greens).join("circle")
    .attr("cx", d => x(d[0])).attr("cy", d => y(d[1])).attr("r", 10.5)
    .attr("fill", "none").attr("stroke", GREEN).attr("stroke-width", 2.5);

  const rowPts = expand(badRows);
  const redStars = badBoth.concat(rowPts, badTZeroP.map(q => [q, 0]));
  dg.selectAll(null).data(redStars).join("path")
    .attr("transform", d => `translate(${x(d[0])},${y(d[1])})`).attr("d", starPath)
    .attr("fill", "none").attr("stroke", RED).attr("stroke-width", 2);

  const bluePlus = expand(badSZeroRanges, 0).concat(badSOnly, badBoth, rowPts);
  dg.selectAll(null).data(bluePlus).join("path")
    .attr("transform", d => `translate(${x(d[0])},${y(d[1])})`).attr("d", plusPath)
    .attr("fill", "none").attr("stroke", BLUE).attr("stroke-width", 2);
}

// ---------- Panel 2 ----------
{
  const p = panels[1];
  const g = svg.append("g");
  const y = d3.scaleLinear().domain([0, 5.25]).range([p.bottom, p.top]);
  drawAxes(g, y, p, [1, 2, 3, 4, 5], d3.format("d"));
  title(g, p, titles[1]);
  const ex = g.append("text").attr("x", 297).attr("y", 767).attr("font-size", FS).attr("fill", "#000");
  ex.append("tspan").text("x 10");
  ex.append("tspan").attr("dy", -16).attr("font-size", 22).text("\u22124");

  g.append("line").attr("x1", x(1)).attr("x2", x(606)).attr("y1", y(dashLevel)).attr("y2", y(dashLevel))
    .attr("stroke", "#000").attr("stroke-width", 2).attr("stroke-dasharray", "16,10");

  g.selectAll(null).data(diffT).join("circle")
    .attr("cx", d => x(d[0])).attr("cy", d => y(d[1])).attr("r", 3.4).attr("fill", RED);

  const line = d3.line().defined(d => d != null).x(d => x(d[0])).y(d => y(d[1]));
  g.append("path").attr("d", line(diffC)).attr("fill", "none").attr("stroke", BLUE).attr("stroke-width", 1.6);
  g.selectAll(null).data(diffC.filter(d => d)).join("circle")
    .attr("cx", d => x(d[0])).attr("cy", d => y(d[1])).attr("r", 3.4).attr("fill", BLUE);
}

// ---------- Panel 3 ----------
{
  const p = panels[2];
  const g = svg.append("g");
  const y = d3.scaleLinear().domain([64.4, 209.1]).range([p.top, p.bottom]);
  drawAxes(g, y, p, [100, 150, 200], d3.format("d"));
  title(g, p, titles[2]);
  g.append("text").attr("transform", `translate(214.5,${(p.top + p.bottom) / 2}) rotate(-90)`)
    .attr("text-anchor", "middle").attr("font-size", FS).attr("fill", "#000").text("depth (m)");

  const line = d3.line().defined(d => d != null).x(d => x(d[0])).y(d => y(d[1]));
  [[pmin, BLUE], [pmax, RED]].forEach(([data, c]) => {
    g.append("path").attr("d", line(data)).attr("fill", "none").attr("stroke", c).attr("stroke-width", 1.6);
    g.selectAll(null).data(data.filter(d => d)).join("circle")
      .attr("cx", d => x(d[0])).attr("cy", d => y(d[1])).attr("r", 3.4).attr("fill", c);
  });
}

// ---------- Panel 4 ----------
{
  const p = panels[3];
  const g = svg.append("g");
  const y = d3.scaleLinear().domain([0, 5.08]).range([p.bottom, p.top]);
  drawAxes(g, y, p, [1, 2, 3, 4, 5], d3.format("d"));
  title(g, p, titles[3]);
  g.append("text").attr("transform", `translate(248,${(p.top + p.bottom) / 2}) rotate(-90)`)
    .attr("text-anchor", "middle").attr("font-size", FS).attr("fill", "#000").text("lag (s)");

  g.selectAll(null).data(lagUp).join("circle")
    .attr("cx", d => x(d[0])).attr("cy", d => y(d[1])).attr("r", 3.6).attr("fill", BLUE);
  g.selectAll(null).data(lagDown).join("circle")
    .attr("cx", d => x(d[0])).attr("cy", d => y(d[1])).attr("r", 3.6).attr("fill", RED);
  const line = d3.line().x(d => x(d[0])).y(d => y(d[1]));
  g.append("path").attr("d", line(lagDownLine)).attr("fill", "none").attr("stroke", RED).attr("stroke-width", 2);
  g.append("path").attr("d", line(lagUpLine)).attr("fill", "none").attr("stroke", BLUE).attr("stroke-width", 2);
}
</script>
</body></html>
